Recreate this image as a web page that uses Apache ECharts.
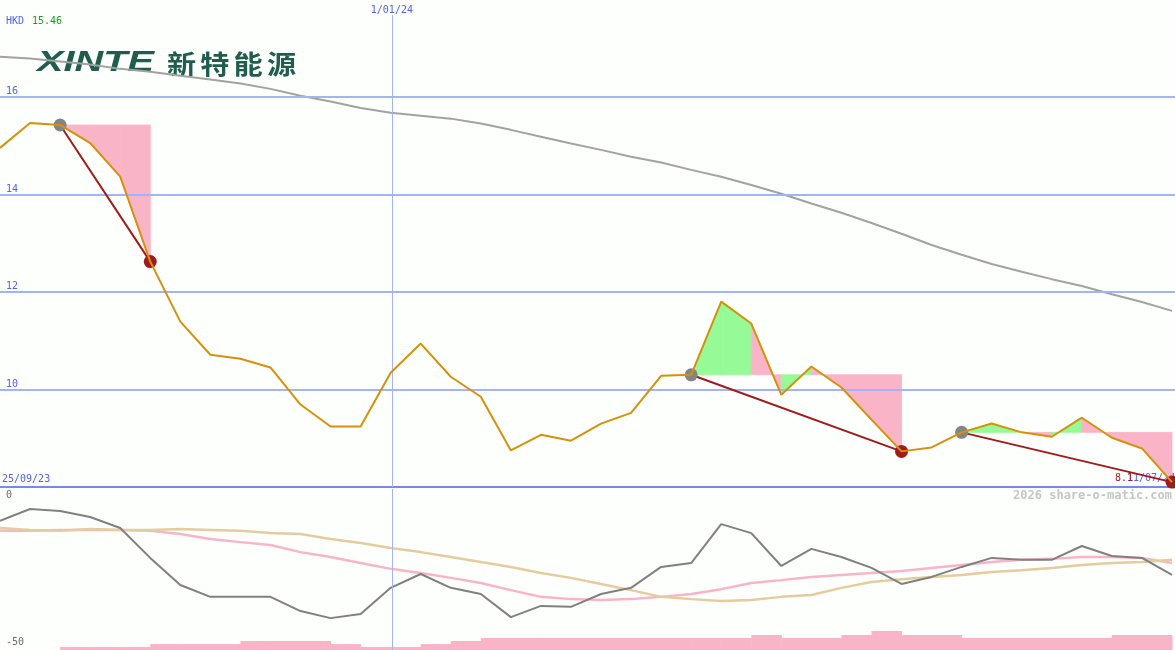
<!DOCTYPE html>
<html><head><meta charset="utf-8">
<script src="https://cdn.jsdelivr.net/npm/echarts@6/dist/echarts.min.js"></script>
<style>html,body{margin:0;padding:0;background:#fdfffd}#c{width:1175px;height:650px}</style>
</head><body><div id="c"></div>
<script>
// ---------- data ----------
const currency = 'HKD';
const startDate = '25/09/23';
const endDate = '11/07/24';
const dateMarks = [{label: '1/01/24', idx: 13.04}];
const price = [14.95,15.46,15.42,15.05,14.36,12.62,11.39,10.71,10.63,10.45,
               9.69,9.24,9.24,10.34,10.94,10.26,9.85,8.75,9.07,8.95,
               9.30,9.52,10.28,10.30,11.80,11.35,9.89,10.47,10.04,9.38,
               8.73,8.81,9.12,9.30,9.12,9.03,9.42,9.01,8.79,8.10];
const movingAvg = [16.82,16.78,16.72,16.66,16.57,16.51,16.43,16.35,16.27,16.16,
                   16.02,15.90,15.77,15.67,15.61,15.55,15.45,15.32,15.18,15.04,
                   14.91,14.77,14.65,14.50,14.36,14.19,14.01,13.81,13.62,13.41,
                   13.19,12.96,12.76,12.57,12.41,12.26,12.12,11.95,11.79,11.61];
const osc = [-9.9,-6.2,-6.8,-8.7,-12.1,-21.4,-29.8,-33.5,-33.5,-33.5,
             -37.9,-40.1,-38.8,-30.7,-26.4,-30.7,-32.6,-39.8,-36.3,-36.6,
             -32.6,-30.7,-24.2,-23.0,-10.9,-13.7,-23.9,-18.6,-21.1,-24.5,
             -29.5,-27.3,-24.2,-21.4,-22.0,-22.0,-17.7,-20.8,-21.4,-26.7];
const oscSignal = [-13.0,-13.0,-12.7,-12.7,-12.7,-13.0,-14.0,-15.5,-16.5,-17.4,
                   -19.6,-21.1,-23.0,-24.8,-26.1,-27.6,-29.2,-31.4,-33.5,-34.2,
                   -34.5,-34.2,-33.5,-32.6,-31.1,-29.2,-28.3,-27.3,-26.7,-26.1,
                   -25.5,-24.5,-23.6,-22.7,-22.0,-21.7,-21.1,-21.1,-21.4,-23.0];
const oscSlow = [-12.1,-12.7,-13.0,-12.4,-12.7,-12.7,-12.4,-12.7,-13.0,-13.7,
                 -14.0,-15.5,-16.8,-18.3,-19.6,-21.1,-22.7,-24.2,-26.1,-27.6,
                 -29.5,-31.4,-33.5,-34.2,-34.8,-34.5,-33.5,-32.9,-30.7,-28.9,
                 -28.0,-27.3,-26.7,-25.8,-25.2,-24.5,-23.6,-23.0,-22.7,-22.0];
const volume = [0,0,1.9,1.9,1.9,3.7,3.7,3.7,5.6,5.6,
                5.6,3.7,1.9,1.9,3.7,5.6,7.5,7.5,7.5,7.5,
                7.5,7.5,7.5,7.5,7.5,9.3,7.5,7.5,9.3,11.8,
                9.3,9.3,7.5,7.5,7.5,7.5,7.5,9.3,9.3];
const priceTicks = [16,14,12,10];
const baseTick = 8;
const oscTicks = ['0','-50'];
const swings = [[2,5],[23,30],[32,39]];
const logoLatin = 'XINTE';
const logoCJK = ['新','特','能','源'];
const watermark = '2026 share-o-matic.com';

// ---------- style ----------
const MONO = '"DejaVu Sans Mono", monospace';
const BLUE = '#5262f2';
const XMAX = 39.1;

const pts = a => a.map((v,i)=>[i,v]);
const maxPrice = Math.max(...price);

const fillData = [];
swings.forEach(([s,e])=>{
  const lvl = price[s];
  for (let i=s;i<e;i++) fillData.push([i, price[i], price[i+1], lvl, price[i+1] >= lvl ? 1 : 0]);
});

const chart = echarts.init(document.getElementById('c'), null, {renderer:'canvas'});

const series = [];
// moving average + grid lines
series.push({
  type:'line', xAxisIndex:0, yAxisIndex:0, data:pts(movingAvg), symbol:'none',
  lineStyle:{color:'#a2a2a2', width:2}, z:3,
  markLine:{
    silent:true, symbol:'none', animation:false,
    data: priceTicks.map(v=>({yAxis:v, lineStyle:{color:'#a4b3f4', width:2, type:'solid'},
        label:{show:true, formatter:String(v), position:'insideStartTop', distance:[6,0], color:BLUE, fontFamily:MONO, fontSize:10}}))
      .concat([{yAxis:baseTick, lineStyle:{color:'#7788ee', width:2, type:'solid'}, label:{show:false}}])
      .concat(dateMarks.map(d=>({xAxis:d.idx, lineStyle:{color:'#a4b3f4', width:1, type:'solid'},
        label:{show:true, formatter:d.label, position:'end', distance:0, color:BLUE, fontFamily:MONO, fontSize:10}})))
  }
});
// fills
series.push({
  type:'custom', xAxisIndex:0, yAxisIndex:0, data:fillData, z:4,
  encode:{x:0, y:[1,2,3]},
  renderItem:(params, api)=>{
    const i = api.value(0);
    const p0 = api.coord([i, api.value(1)]);
    const p1 = api.coord([i+1, api.value(2)]);
    const l0 = api.coord([i, api.value(3)]);
    const l1 = api.coord([i+1, api.value(3)]);
    const col = api.value(4) ? '#96fa96' : '#fab4c8';
    return {type:'polygon', shape:{points:[l0,p0,p1,l1]},
      style:{fill: col, stroke: col, lineWidth: 0.8}};
  }
});
// trend lines
swings.forEach(([s,e])=>{
  series.push({type:'line', xAxisIndex:0, yAxisIndex:0, data:[[s,price[s]],[e,price[e]]],
    symbol:'none', lineStyle:{color:'#9e1c1c', width:2}, z:5});
});
// circles
series.push({type:'scatter', xAxisIndex:0, yAxisIndex:0, data:swings.map(([s])=>[s,price[s]]),
  symbolSize:13, itemStyle:{color:'#848484', opacity:1}, z:6});
series.push({type:'scatter', xAxisIndex:0, yAxisIndex:0, data:swings.map(([s,e])=>[e,price[e]]),
  symbolSize:13, itemStyle:{color:'#a01c1c', opacity:1}, z:6});
// price line
series.push({type:'line', xAxisIndex:0, yAxisIndex:0, data:pts(price), symbol:'none',
  lineStyle:{color:'#d4920c', width:2}, z:7});

// lower panel
series.push({
  type:'custom', xAxisIndex:1, yAxisIndex:2, data:volume.map((v,i)=>[i,v]), z:2,
  encode:{x:0, y:1},
  renderItem:(params, api)=>{
    const i = api.value(0);
    const tl = api.coord([i, api.value(1)]);
    const br = api.coord([i+1, 0]);
    return {type:'rect', shape:{x:tl[0], y:tl[1], width:br[0]-tl[0]+0.5, height:br[1]-tl[1]},
      style:{fill:'#f9b4c8'}};
  },
  markLine:{silent:true, symbol:'none', animation:false,
    data: dateMarks.map(d=>({xAxis:d.idx, lineStyle:{color:'#a4b3f4', width:1, type:'solid'}, label:{show:false}}))}
});
series.push({type:'line', xAxisIndex:1, yAxisIndex:1, data:pts(oscSignal), symbol:'none',
  lineStyle:{color:'#f9b4c8', width:2.5}, z:3});
series.push({type:'line', xAxisIndex:1, yAxisIndex:1, data:pts(oscSlow), symbol:'none',
  lineStyle:{color:'#e4cc9c', width:2.5}, z:3});
series.push({type:'line', xAxisIndex:1, yAxisIndex:1, data:pts(osc), symbol:'none',
  lineStyle:{color:'#808080', width:2}, z:4});

const txt = (x,y,text,fill,font,extra)=>Object.assign({type:'text', x, y, z:1,
  style:{text, fill, font, textAlign:'left', align:'left', textVerticalAlign:'middle', verticalAlign:'middle'}}, extra||{});

const graphics = [
  txt(6,21,currency,BLUE,'10px '+MONO),
  txt(32,21,maxPrice.toFixed(2),'#229922','10px '+MONO),
  txt(37,63,logoLatin,'#1f5e4c','italic bold 29px "Liberation Sans", Arial, sans-serif',{scaleX:1.37}),
  ...logoCJK.map((c,k)=>txt(167+k*33.3,64,c,'#1f5e4c','bold 26px "Noto Sans CJK SC", sans-serif',{scaleX:1.12})),
  txt(2,479,startDate,BLUE,'10px '+MONO),
  txt(1127,478,endDate,BLUE,'10px '+MONO),
  txt(1115,478,price[price.length-1].toFixed(1),'#a01c1c','10px '+MONO,{z:2}),
  txt(6,495,oscTicks[0],'#6a6a6a','10px '+MONO),
  txt(6,642,oscTicks[1],'#6a6a6a','10px '+MONO),
  {type:'text', x:1172, y:496, z:1, style:{text:watermark, fill:'#c6c6c6', font:'bold 12px '+MONO,
    textAlign:'right', align:'right', textVerticalAlign:'middle', verticalAlign:'middle'}}
];

chart.setOption({
  animation:false,
  backgroundColor:'#fdfffd',
  grid:[{left:0, right:0, top:15, height:472}, {left:0, right:0, top:489, height:161}],
  xAxis:[{type:'value', gridIndex:0, min:0, max:XMAX, show:false},
         {type:'value', gridIndex:1, min:0, max:XMAX, show:false}],
  yAxis:[{type:'value', gridIndex:0, min:baseTick, max:17.674, show:false},
         {type:'value', gridIndex:1, min:-50, max:0, show:false},
         {type:'value', gridIndex:1, min:0, max:100, show:false}],
  graphic:graphics,
  series
});
</script></body></html>
